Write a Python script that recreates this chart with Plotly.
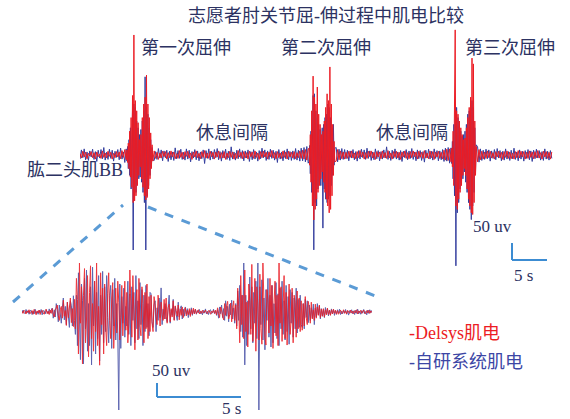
import numpy as np
import plotly.graph_objects as go

W, H = 570, 419

# ---------------- DATA (uV) ----------------
# Top record: segments sampled at their own step (start s, step s)
seg_start = [0.0, 6.7, 10.6, 32.7, 36.6, 53.1, 56.8]
seg_step = [0.2, 0.1, 0.2, 0.1, 0.2, 0.1, 0.2]

rest1_delsys = [4,-9,11,-6,8,-11,5,-3,10,-8,7,-12,9,-5,3,-10,12,-7,6,-9,11,-4,8,-12,5,-8,10,-6,9,-11,13,-7,16,-14]
rest1_ours = [-12,15,-8,18,-14,9,-16,12,-6,17,-13,10,-19,14,-9,16,-11,22,-15,8,-13,17,-10,14,-18,11,-7,16,-14,20,-12,9,-22,18]

burst1_delsys = [15,-22,35,-40,70,-65,110,-95,175,-140,353,-135,160,-120,130,-90,95,-60,45,-35,
                 60,-70,110,-95,150,-120,170,-132,235,-125,150,-100,110,-70,65,-40,30,-18]
burst1_ours = [-18,25,-40,45,-60,80,-100,120,130,-326,150,-120,140,-110,100,-85,80,-70,60,-65,
               75,-80,100,-110,130,-140,230,-326,140,-120,120,-90,80,-60,45,-35,22,-15]

rest2_delsys = [12,-10,8,-13,6,-9,11,-5,10,-12, 7,-8,12,-6,9,-11,4,-10,13,-7,
                8,-12,10,-4,11,-9,6,-13,9,-6, 12,-8,5,-11,10,-7,13,-9,6,-10,
                11,-5,8,-12,9,-6,12,-10,7,-9, 10,-13,6,-8,11,-7,9,-12,5,-10,
                13,-6,8,-11,10,-9,7,-12,11,-5, 9,-10,12,-7,6,-13,10,-8,11,-6,
                8,-12,9,-5,13,-9,7,-11,10,-8, 6,-10,12,-7,9,-12,11,-6,8,-9,
                10,-11,7,-8,12,-10,14,-12,16,-15,18]
rest2_ours = [-16,10,-13,19,-9,15,-17,12,-8,14, -19,11,-14,9,-16,21,-11,13,-10,17,
              -13,8,-15,18,-12,14,-20,10,-9,16, -14,12,-17,9,-11,15,-25,13,-10,18,
              -15,11,-12,16,-8,19,-14,10,-18,13, -9,17,-13,11,-16,24,-12,9,-15,14,
              -11,18,-10,13,-17,12,-9,15,-19,10, -14,16,-12,9,-18,13,-11,20,-8,15,
              -16,12,-13,17,-10,14,-15,11,-22,16, -12,9,-17,13,-11,18,-14,10,-16,12,
              -13,19,-15,14,-18,20,-17,22,-20,25,-24]

burst2_delsys = [20,-30,60,-80,130,-150,232,-191,170,-160,150,-130,200,-110,120,-90,90,-70,60,-50,
                 70,-80,100,-110,140,-130,180,-150,160,-170,259,-160,150,-120,90,-60,40,-20]
burst2_ours = [-20,28,-55,70,-110,140,175,-279,180,-140,130,-150,110,-100,90,-80,75,-90,60,80,
               -215,90,-100,110,-130,120,-140,150,-130,140,-120,110,-90,80,-60,90,-30,20]

rest3_delsys = [-18,16,-14,12,-11,9,-12,8,-10,11, -7,12,-9,6,-11,10,-8,13,-6,9,
                -12,7,-10,11,-5,12,-9,8,-13,10, -6,9,-11,12,-8,7,-10,13,-9,6,
                -12,10,-7,11,-9,8,-13,9,-6,12, -10,7,-11,10,-8,12,-5,9,-12,11,
                -7,8,-10,13,-9,6,-11,12,-8,10, -13,9,-6,11,-10,8,-12,14,-15,17,
                -16,18,-20]
rest3_ours = [22,-20,17,-15,19,-13,16,-11,14,-17, 12,-9,16,-14,10,-18,13,-12,17,-8,
              15,-13,20,-10,12,-16,9,-14,18,-11, 13,-17,10,-12,15,-9,24,-13,11,-16,
              14,-10,18,-12,9,-15,13,-19,11,-8, 16,-14,12,-10,19,-13,9,-17,15,-11,
              13,-16,10,-21,14,-9,17,-12,11,-15, 18,-10,13,-17,12,-14,16,-19,20,-18,
              22,-24,21]

burst3_delsys = [20,-35,70,-90,150,368,-150,130,-160,120,-130,100,-110,80,-90,60,-60,45,-40,50,
                 -60,80,-100,110,-130,140,-150,170,-170,285,-175,268,-140,100,-60,25]
burst3_ours = [-25,40,-70,90,-120,130,-326,140,-170,110,-140,90,-100,70,-80,55,-70,60,-50,70,
               -80,90,-110,120,-140,130,-160,150,-190,160,-150,140,-110,80,-50,30]

rest4_delsys = [-20,16,-14,11,-12,9,-10,12,-8,11, -9,7,-12,10,-6,11,-9,8,-13,10,
                -7,12,-10,9,-11,6,-12,10,-8,13, -9,11,-6,10,-12,8,-10,12,-7,9,
                -11,10,-8,13,-9,7,-12,11,-6,10, -10,8,-12,9]
rest4_ours = [24,-21,18,-16,14,-13,17,-11,15,-18, 12,-10,16,-14,19,-9,13,-17,11,-15,
              18,-12,10,-16,14,-11,20,-13,9,-17, 15,-12,11,-18,13,-10,16,-14,12,-19,
              14,-11,17,-9,13,-15,10,-16,18,-12, 11,-15,13,-10]

# Bottom record: zoom of the first flexion-extension, step 0.06 s
zoom_step = 0.06
zoom_delsys = [
    3,-5,6,2,-7,4,-2,8,-6,-1,5,-8,9,3,-10,4,-3,7,-9,2,6,-4,-8,5,10,-6,3,-9,7,-5,
    12,-8,-18,6,15,25,-12,-30,8,20,-22,42,-15,5,-48,35,-20,28,50,-38,12,-52,45,
    -60,120,45,-150,175,-40,90,-185,60,155,-110,-25,130,-160,70,165,-95,30,-140,110,-70,175,-120,20,-190,140,-45,85,-150,100,
    -55,-120,65,140,-30,-95,50,105,-130,20,85,-75,110,35,-100,-20,95,-85,40,110,-65,70,-110,-40,150,60,-90,130,-20,-135,
    45,80,-100,120,-50,-85,90,30,-110,70,-60,100,-95,55,-70,
    60,-40,-70,55,30,-15,-45,60,20,-50,35,-10,-30,45,-25,50,-40,15,28,-35,12,-18,40,-30,22,5,-15,25,-28,10,
    -12,18,-20,8,15,-14,6,-10,12,-16,9,-8,14,-6,10,
    -6,4,8,-7,3,-5,6,-4,2,7,-3,-6,5,4,-8,3,-2,6,-5,7,
    -10,15,-5,-20,18,8,-14,-28,30,-12,22,38,-25,-10,32,-35,15,40,-30,25,
    -60,85,20,-110,130,-45,60,-95,150,-70,35,-125,100,40,-80,170,-105,-30,120,-140,90,25,-100,135,-60,-115,175,55,-90,-118,
    80,45,-75,120,-50,95,-130,30,110,-85,60,-120,175,-40,90,-105,20,130,-95,70,-118,45,100,-80,-30,85,-110,60,35,-90,
    75,-60,50,-70,40,
    -65,30,-50,55,-20,-45,38,15,-40,35,-25,8,-30,28,-22,18,-12,25,-20,10,-15,12,-18,8,-10,14,-9,6,-12,8,-7,10,-5,6,-8,
    5,-8,3,7,-6,-2,8,-5,4,-7,6,2,-5,7,-4,3,-6,5,-3,8,-7,4,-2,6,-5,3,7,-4,-6,5,-3,6,-5,4,-2]
zoom_ours = [
    -4,7,-2,-6,9,-3,5,-8,4,6,-9,3,-7,10,-5,2,-8,6,-4,9,-10,5,3,-7,8,-2,-6,11,-4,7,
    14,-22,8,-18,30,10,-35,25,-12,-40,15,50,-28,20,-45,35,-15,-55,40,22,-50,58,-30,
    -80,60,-120,140,-20,-170,100,40,-185,120,-60,150,-140,30,-120,90,-189,160,-50,110,-150,70,-95,130,-175,60,-80,145,-110,90,
    -70,130,-20,-110,60,95,-130,80,-50,120,-100,30,-75,-350,100,-130,55,-40,85,-90,20,-50,110,-80,65,-120,90,-30,70,-110,
    130,-60,40,-95,105,-45,80,-120,60,-70,95,-55,30,-85,70,
    65,-35,-55,25,40,-70,15,-30,50,-20,86,-45,10,-25,30,-15,-35,18,60,-40,8,-12,45,-28,20,-10,-30,35,-18,12,
    22,-25,10,-15,18,-8,12,-20,6,-10,15,-12,8,-6,10,
    -8,5,-3,9,-6,2,-10,6,-4,11,-7,3,-9,5,8,-6,-3,10,-5,4,
    -12,8,-22,18,-6,25,-20,12,-30,40,-15,20,-35,28,-10,42,-25,15,-40,30,
    -50,75,-30,95,-70,60,-90,175,-189,60,-120,40,-80,125,-60,90,-110,70,-40,110,-95,175,-350,90,-45,115,-100,50,-135,80,
    -30,120,-90,60,-125,95,-110,30,-75,105,-95,65,-120,85,-60,110,-80,40,-100,95,-70,55,-115,80,-40,70,-90,50,-60,85,
    -75,45,-55,60,-45,
    -55,30,-60,45,-20,40,-38,25,-30,15,-22,28,-45,14,-18,30,-10,22,-25,12,-15,9,-20,16,-8,12,-14,7,-10,11,-6,9,-12,5,-8,
    8,-4,10,-9,3,-7,6,-3,9,-8,4,-11,5,-2,8,-6,4,-9,6,-5,10,-7,3,-8,5,-4,9,-6,2,-10,7,-5,8,-3,6]

# text
title_text = "志愿者肘关节屈-伸过程中肌电比较"
cycle_labels = ["第一次屈伸", "第二次屈伸", "第三次屈伸"]
rest_label = "休息间隔"
muscle_label = "肱二头肌BB"
legend_labels = ["-Delsys肌电", "-自研系统肌电"]
scale_amp, scale_time = 50, 5   # uV, s

# ---------------- BUILD ----------------
delsys_segs = [rest1_delsys, burst1_delsys, rest2_delsys, burst2_delsys, rest3_delsys, burst3_delsys, rest4_delsys]
ours_segs = [rest1_ours, burst1_ours, rest2_ours, burst2_ours, rest3_ours, burst3_ours, rest4_ours]

def build(segs):
    t, v = [], []
    for s0, st, vals in zip(seg_start, seg_step, segs):
        t.extend(s0 + st * np.arange(len(vals)))
        v.extend(vals)
    return np.array(t), np.array(v)

t_top_d, v_top_d = build(delsys_segs)
t_top_o, v_top_o = build(ours_segs)
t_zoom_d = zoom_step * np.arange(len(zoom_delsys))
t_zoom_o = zoom_step * np.arange(len(zoom_ours))

RED = "rgb(236,28,36)"
BLUE = "rgb(52,62,158)"
TXT = "#2c3262"
BAR = "rgb(60,140,210)"
DASH = "rgb(91,155,213)"
FONT = "Liberation Serif, Noto Sans CJK SC, serif"

def paper_x(px):
    return px / W

def paper_y(py):
    return 1 - py / H

# top axes geometry (px): 7 px per s, 17 px per 50 uV, baseline y=155
TOP_X0, TOP_X1, TOP_PX_S = 80, 553, 7.0
TOP_Y0, TOP_Y1, TOP_BASE, TOP_PX_UV = 20, 280, 155, 17 / 50
# bottom axes geometry: 16.8 px per s, 14 px per 50 uV, baseline y=312
BOT_X0, BOT_X1, BOT_PX_S = 22, 372, 16.8
BOT_Y0, BOT_Y1, BOT_BASE, BOT_PX_UV = 250, 419, 312, 14 / 50

fig = go.Figure()
fig.add_trace(go.Scatter(x=t_top_o, y=v_top_o, mode="lines", line=dict(color=BLUE, width=1),
                         xaxis="x", yaxis="y", hoverinfo="skip"))
fig.add_trace(go.Scatter(x=t_top_d, y=v_top_d, mode="lines", line=dict(color=RED, width=1),
                         xaxis="x", yaxis="y", hoverinfo="skip"))
fig.add_trace(go.Scatter(x=t_zoom_o, y=zoom_ours, mode="lines", line=dict(color=BLUE, width=1),
                         opacity=0.8, xaxis="x2", yaxis="y2", hoverinfo="skip"))
fig.add_trace(go.Scatter(x=t_zoom_d, y=zoom_delsys, mode="lines", line=dict(color=RED, width=1),
                         opacity=0.88, xaxis="x2", yaxis="y2", hoverinfo="skip"))

hidden = dict(visible=False, showgrid=False, zeroline=False, fixedrange=True)
fig.update_layout(
    width=W, height=H, margin=dict(l=0, r=0, t=0, b=0),
    paper_bgcolor="white", plot_bgcolor="white", showlegend=False,
    xaxis=dict(domain=[paper_x(TOP_X0), paper_x(TOP_X1)],
               range=[0, (TOP_X1 - TOP_X0) / TOP_PX_S], anchor="y", **hidden),
    yaxis=dict(domain=[paper_y(TOP_Y1), paper_y(TOP_Y0)],
               range=[(TOP_BASE - TOP_Y1) / TOP_PX_UV, (TOP_BASE - TOP_Y0) / TOP_PX_UV], anchor="x", **hidden),
    xaxis2=dict(domain=[paper_x(BOT_X0), paper_x(BOT_X1)],
                range=[0, (BOT_X1 - BOT_X0) / BOT_PX_S], anchor="y2", **hidden),
    yaxis2=dict(domain=[paper_y(BOT_Y1), paper_y(BOT_Y0)],
                range=[(BOT_BASE - BOT_Y1) / BOT_PX_UV, (BOT_BASE - BOT_Y0) / BOT_PX_UV], anchor="x2", **hidden),
)

def note(text, px, py, size=18, color=TXT, xanchor="center"):
    fig.add_annotation(text=text, x=paper_x(px), y=paper_y(py), xref="paper", yref="paper",
                       xanchor=xanchor, yanchor="middle", showarrow=False,
                       font=dict(family=FONT, size=size, color=color))

note(title_text, 326, 16)
for lbl, cx in zip(cycle_labels, [186, 326, 510]):
    note(lbl, cx, 48)
for cx in [232, 412]:
    note(rest_label, cx, 133)
note(muscle_label, 75, 170)
note(legend_labels[0], 407, 333, color=RED, xanchor="left")
note(legend_labels[1], 407, 362, color="rgb(60,70,165)", xanchor="left")

# scale bars (data units)
def scale_bar(xr, yr, t0, y0, lbl_amp_px, lbl_t_px):
    fig.add_shape(type="line", xref=xr, yref=yr, x0=t0, x1=t0, y0=y0, y1=y0 + scale_amp,
                  line=dict(color=BAR, width=2))
    fig.add_shape(type="line", xref=xr, yref=yr, x0=t0, x1=t0 + scale_time, y0=y0, y1=y0,
                  line=dict(color=BAR, width=2))
    note(f"{scale_amp} uv", *lbl_amp_px, size=17)
    note(f"{scale_time} s", *lbl_t_px, size=17)

scale_bar("x", "y", (512 - TOP_X0) / TOP_PX_S, (TOP_BASE - 260) / TOP_PX_UV, (492, 226), (523, 275))
scale_bar("x2", "y2", (157 - BOT_X0) / BOT_PX_S, (BOT_BASE - 397) / BOT_PX_UV, (171, 370), (231, 408))

# dashed zoom connectors
for (xa, ya), (xb, yb) in [((13, 302), (123, 205)), ((148, 207), (378, 297))]:
    fig.add_shape(type="line", xref="paper", yref="paper",
                  x0=paper_x(xa), y0=paper_y(ya), x1=paper_x(xb), y1=paper_y(yb),
                  line=dict(color=DASH, width=3, dash="dash"))

fig.write_html("out.html", config={"displayModeBar": False},
               post_script="document.body.style.margin='0';document.body.style.overflow='hidden';")
